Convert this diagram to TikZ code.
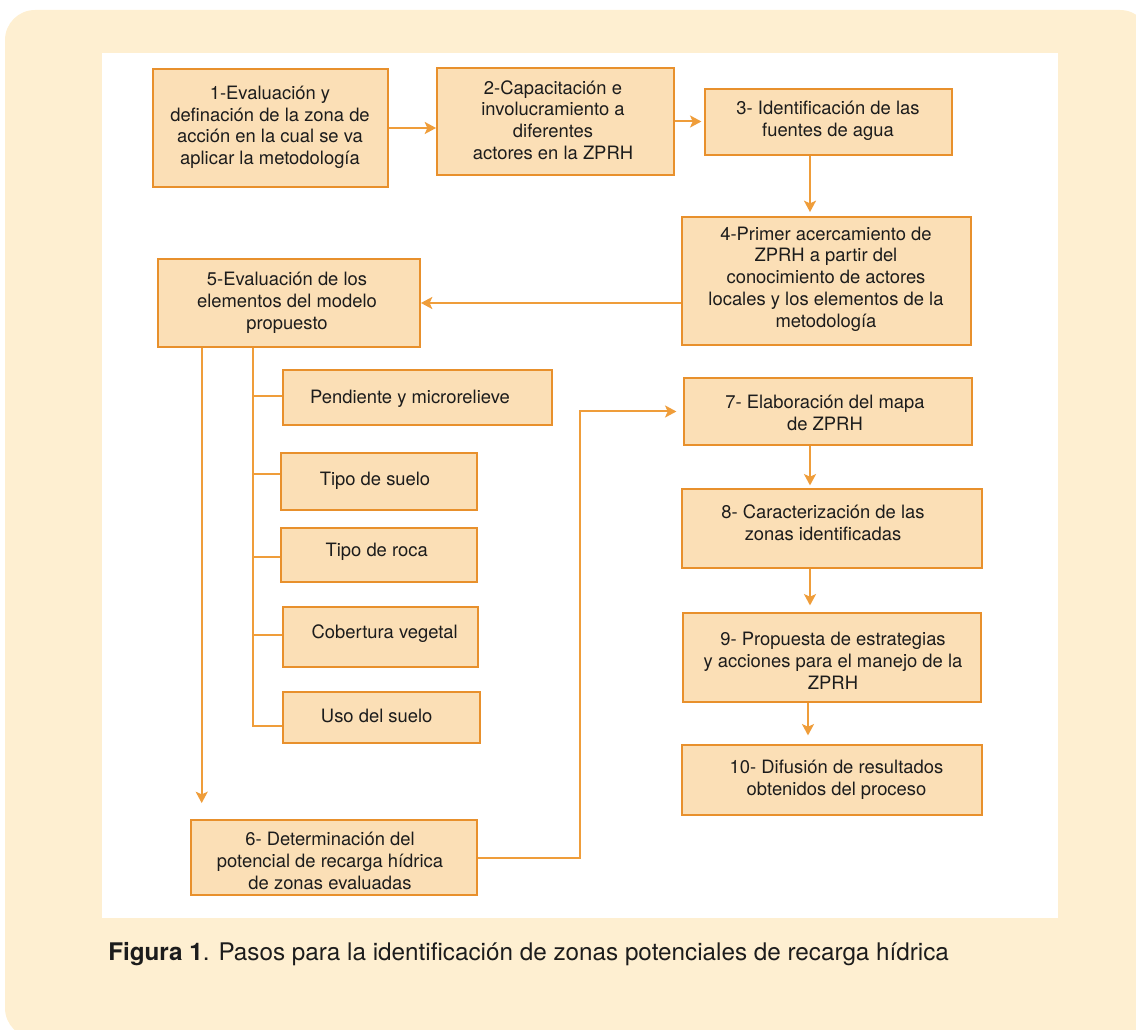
\documentclass[tikz,border=0pt]{standalone}
\usepackage{fontspec}
\setmainfont{TeX Gyre Heros}
\usetikzlibrary{arrows.meta,fit,calc}

\definecolor{panelcol}{HTML}{FEEFD1}
\definecolor{boxfill}{HTML}{FBDFB6}
\definecolor{boxline}{HTML}{E8902C}
\definecolor{linkcol}{HTML}{EF9D3A}
\definecolor{inkcol}{HTML}{1C1C1C}

\newcommand{\boxfont}{\fontsize{13.8pt}{16.35pt}\selectfont}
\newcommand{\capfont}{\fontsize{18.2pt}{21pt}\selectfont}

\tikzset{
  box/.style={draw=boxline, fill=boxfill, line width=1.4pt, inner sep=0pt},
  txt/.style={align=center, inner sep=0pt, font=\boxfont, text=inkcol},
  link/.style={draw=linkcol, line width=1.5pt},
  arr/.style={link, -{Stealth[length=8.5pt,width=9pt,inset=2pt]}},
}

\begin{document}
\begin{tikzpicture}[x=0.75pt,y=-0.75pt]
\useasboundingbox (0,0) rectangle (1136,1030);
\clip (0,0) rectangle (1136,1030);

% frame and drawing area
\fill[panelcol, rounded corners=22.5pt] (5,10) rectangle (1150,1038);
\fill[white] (102,53) rectangle (1058,918);

% main steps
\node[box, fit={(153,69) (388,187)}] (b1) {};
\node[txt] at (270,127.4) {1-Evaluación y\\definación de la zona de\\acción en la cual se va\\aplicar la metodología};

\node[box, fit={(437,68) (674,175)}] (b2) {};
\node[txt] at (553,120) {2-Capacitación e\\involucramiento a\\diferentes\\actores en la ZPRH};

\node[box, fit={(705,89) (952,155)}] (b3) {};
\node[txt] at (828,120.5) {3- Identificación de las\\fuentes de agua};

\node[box, fit={(682,217) (971,345)}] (b4) {};
\node[txt] at (826,279) {4-Primer acercamiento de\\ZPRH a partir del\\conocimiento de actores\\locales y los elementos de la\\metodología};

\node[box, fit={(158,259) (420,347)}] (b5) {};
\node[txt] at (287,303) {5-Evaluación de los\\elementos del modelo\\propuesto};

% elements of the model
\node[box, fit={(283,370) (552,425)}] (s1) {};
\node[txt] at (410,399) {Pendiente y microrelieve};

\node[box, fit={(281,453) (477,510)}] (s2) {};
\node[txt] at (375,480.7) {Tipo de suelo};

\node[box, fit={(281,528) (477,582)}] (s3) {};
\node[txt] at (376.7,552) {Tipo de roca};

\node[box, fit={(283,607) (478,667)}] (s4) {};
\node[txt] at (384.7,634) {Cobertura vegetal};

\node[box, fit={(283,692) (480,743)}] (s5) {};
\node[txt] at (376.7,716) {Uso del suelo};

\node[box, fit={(191,820) (477,895)}] (b6) {};
\node[txt] at (330,861) {6- Determinación del\\potencial de recarga hídrica\\de zonas evaluadas};

\node[box, fit={(684,378) (972,445)}] (b7) {};
\node[txt] at (825,413) {7- Elaboración del mapa\\de ZPRH};

\node[box, fit={(682,489) (982,568)}] (b8) {};
\node[txt] at (823,522.5) {8- Caracterización de las\\zonas identificadas};

\node[box, fit={(683,613) (981,702)}] (b9) {};
\node[txt] at (833,660.5) {9- Propuesta de estrategias\\y acciones para el manejo de la\\ZPRH};

\node[box, fit={(682,745) (982,815)}] (b10) {};
\node[txt] at (836.5,779.5) {10- Difusión de resultados\\obtenidos del proceso};

% guide columns for the connectors
\coordinate (col) at (810,0);
\coordinate (colb) at (808,0);
\coordinate (tr) at (252.7,0);
\coordinate (dl) at (201.7,0);
\coordinate (jog) at (580,0);

% connectors along the top row
\draw[arr] (b1.east) -- (b1.east -| b2.west);
\draw[arr, shorten >=2pt] (b2.east) -- (b2.east -| b3.west);
\draw[arr, shorten >=3pt] (b3.south -| col) -- (b4.north -| col);
\draw[arr] (b4.west |- b5.east) -- (b5.east);

% branches to the elements of the model
\coordinate (t1) at ($(s1.west)+(0,-1.5)$);
\coordinate (t2) at ($(s2.west)+(0,-7)$);
\coordinate (t3) at ($(s3.west)+(0,1.7)$);
\coordinate (t4) at ($(s4.west)+(0,-2)$);
\coordinate (t5) at ($(s5.west)+(0,8)$);
\draw[link] (b5.south -| tr) |- (t5);
\draw[link] (t1 -| tr) -- (t1);
\draw[link] (t2 -| tr) -- (t2);
\draw[link] (t3 -| tr) -- (t3);
\draw[link] (t4 -| tr) -- (t4);

% from the model evaluation down to step 6, then over to step 7
\draw[arr, shorten >=12pt] (b5.south -| dl) -- (b6.north -| dl);
\draw[arr, shorten >=5pt] (b6.east) -| (jog |- b7.west) -- (b7.west);

% right column
\draw[arr, shorten >=2pt] (b7.south -| col) -- (b8.north -| col);
\draw[arr, shorten >=5pt] (b8.south -| col) -- (b9.north -| col);
\draw[arr, shorten >=6.5pt] (b9.south -| colb) -- (b10.north -| colb);

% caption
\node[anchor=base west, inner sep=0pt, font=\capfont, text=inkcol] (cap) at (108,960)
  {\textbf{Figura 1}. Pasos para la identificación de zonas potenciales de recarga hídrica};
\end{tikzpicture}
\end{document}
